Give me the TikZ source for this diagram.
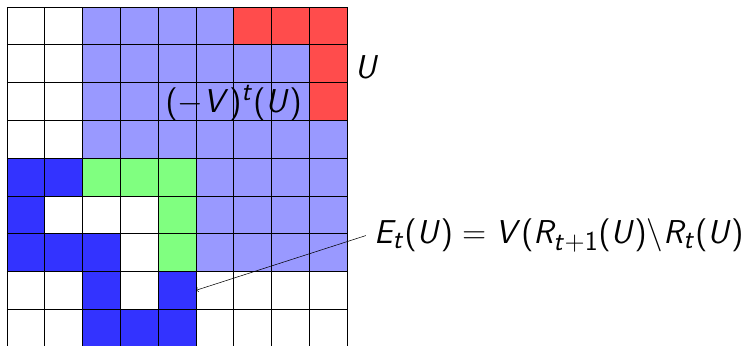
\documentclass[tikz,border=0pt]{standalone}
\DeclareSymbolFont{sfop}{OT1}{cmss}{m}{n}
\DeclareSymbolFont{sfit}{OT1}{cmss}{m}{sl}
\DeclareMathSymbol{E}{\mathalpha}{sfit}{`E}
\DeclareMathSymbol{U}{\mathalpha}{sfit}{`U}
\DeclareMathSymbol{V}{\mathalpha}{sfit}{`V}
\DeclareMathSymbol{R}{\mathalpha}{sfit}{`R}
\DeclareMathSymbol{t}{\mathalpha}{sfit}{`t}
\DeclareMathSymbol{1}{\mathalpha}{sfop}{`1}
\DeclareMathSymbol{(}{\mathopen}{sfop}{`(}
\DeclareMathSymbol{)}{\mathclose}{sfop}{`)}
\DeclareMathSymbol{+}{\mathbin}{sfop}{`+}
\DeclareMathSymbol{=}{\mathrel}{sfop}{`=}
\definecolor{lblue}{RGB}{153,153,255}
\definecolor{dblue}{RGB}{51,51,255}
\definecolor{rred}{RGB}{255,76,76}
\definecolor{ggreen}{RGB}{128,255,128}
\tikzset{
  cellL/.style={fill=lblue},
  cellB/.style={fill=dblue},
  cellR/.style={fill=rred},
  cellG/.style={fill=ggreen},
  cellW/.style={fill=white},
  lbl/.style={inner sep=0pt, font=\Huge},
}
\begin{document}
\begin{tikzpicture}
\useasboundingbox (-0.185,0.03) rectangle (19.455,9.185);
\foreach \rowdef [count=\r] in {
  {W,W,L,L,L,L,R,R,R},
  {W,W,L,L,L,L,L,L,R},
  {W,W,L,L,L,L,L,L,R},
  {W,W,L,L,L,L,L,L,L},
  {B,B,G,G,G,L,L,L,L},
  {B,W,W,W,G,L,L,L,L},
  {B,B,B,W,G,L,L,L,L},
  {W,W,B,W,B,W,W,W,W},
  {W,W,B,B,B,W,W,W,W}}{
  \foreach \c [count=\col] in \rowdef {
    \fill[cell\c] ({\col-1},{9-\r}) rectangle ++(1,1);
  }
}
\node[lbl] (vt) at (6.0,6.45) {$(-V)^{t}(U)$};
\draw[black, line width=0.5pt] (0,0) grid (9,9);
\node[lbl, anchor=west] (u) at (9.2,7.41) {$U$};
\node[lbl, inner xsep=0.21cm, anchor=west] (e) at (9.50,2.95) {$E_{t}(U) = V(R_{t+1}(U)\backslash R_{t}(U)$};
\coordinate (tip) at (5,1.5);
\draw[->, line width=0.4pt] (e.west) -- (tip);
\end{tikzpicture}
\end{document}
